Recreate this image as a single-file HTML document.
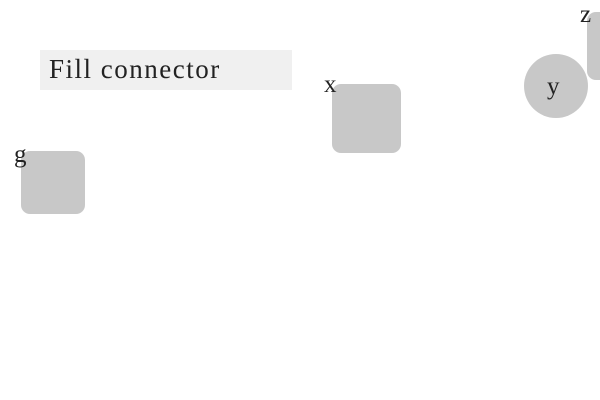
<!DOCTYPE html>
<html><head><style>
body{margin:0;width:600px;height:400px;background:#fff;position:relative;overflow:hidden;font-family:"Liberation Serif",serif;color:#222}
div{position:absolute}
.b{background:#c8c8c8;border-radius:9px}
.l{font-size:25px;line-height:1}
</style></head><body>
<div style="left:40px;top:50px;width:252px;height:40px;background:#f0f0f0"></div>
<div style="left:49px;top:55px;font-size:27px;line-height:1.1;letter-spacing:1.5px">Fill connector</div>
<div class="b" style="left:21px;top:151px;width:64px;height:63px"></div>
<div class="l" style="left:14px;top:142px">g</div>
<div class="b" style="left:332px;top:84px;width:69px;height:69px"></div>
<div class="l" style="left:324px;top:72px">x</div>
<div style="left:524px;top:54px;width:64px;height:64px;border-radius:50%;background:#c8c8c8"></div>
<div class="l" style="left:547px;top:74px">y</div>
<div class="b" style="left:587px;top:12px;width:30px;height:68px"></div>
<div class="l" style="left:580px;top:2px">z</div>
</body></html>
